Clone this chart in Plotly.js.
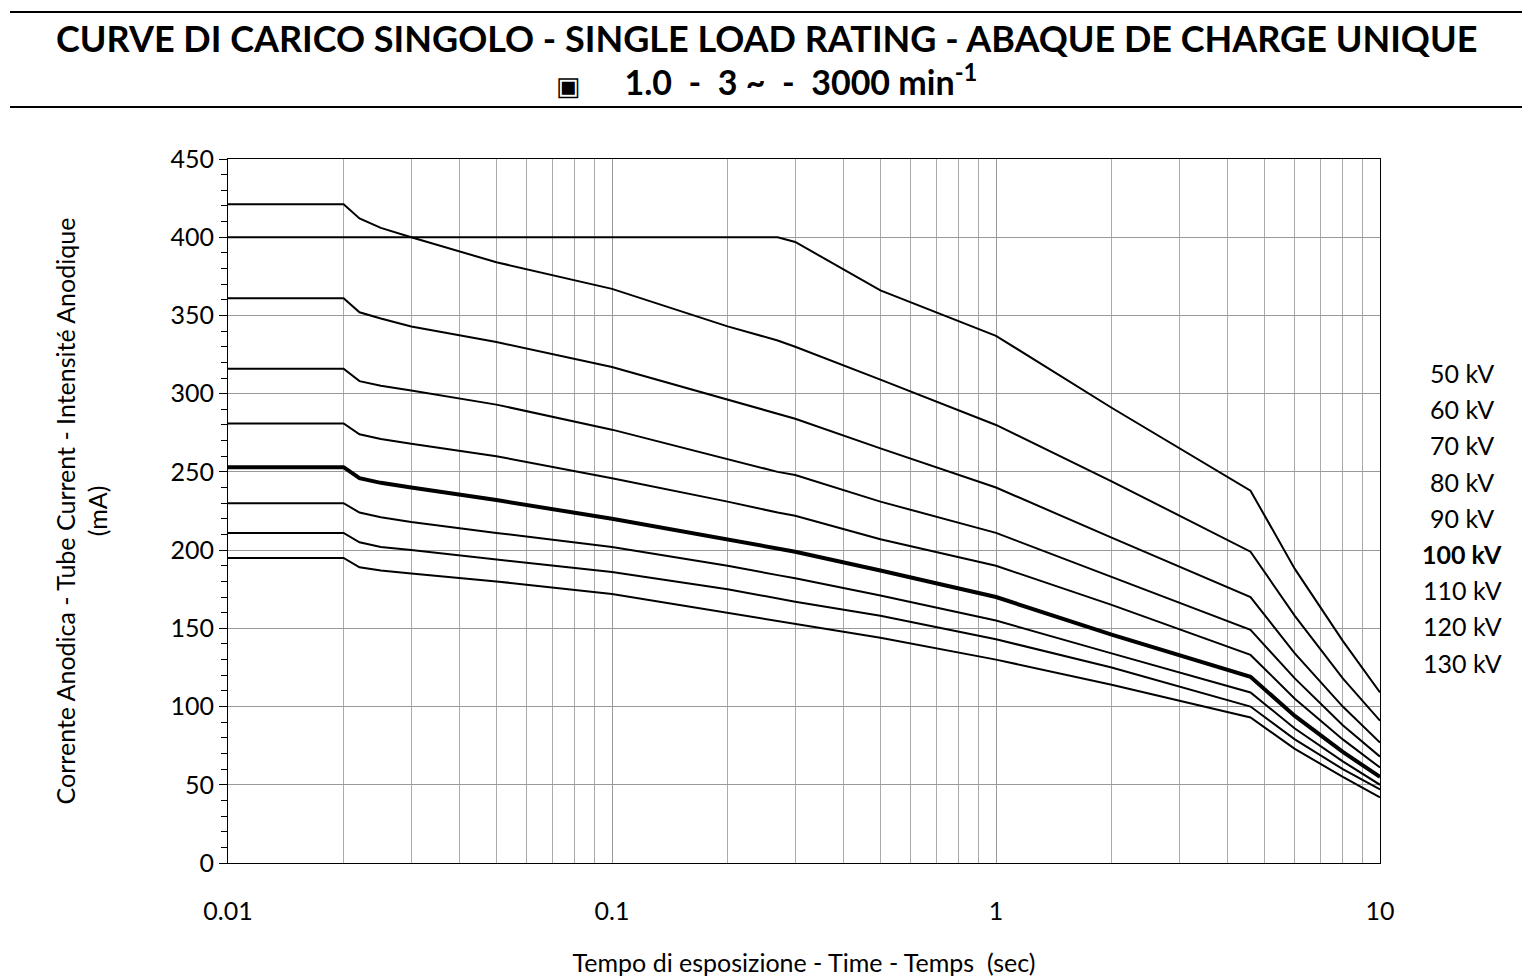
<!DOCTYPE html>
<html><head><meta charset="utf-8">
<script src="https://cdn.plot.ly/plotly-3.0.1.min.js"></script>
<style>body{margin:0;background:#fff}#c{width:1536px;height:979px}</style>
</head><body><div id="c"></div>
<script>
const times = [0.01,0.02,0.022,0.025,0.03,0.05,0.1,0.2,0.27,0.3,0.5,1,2,4.6,6,8,10];
const kv50  = [400,400,400,400,400,400,400,400,400,397,366,337,291,238,188,142,109];
const kv60  = [421,421,412,406,400,384,367,343,334,330,309,280,244,199,158,118,91];
const kv70  = [361,361,352,348,343,333,317,296,287,284,265,240,208,170,134,100,77];
const kv80  = [316,316,308,305,302,293,277,258,250,248,231,211,183,149,118,88,68];
const kv90  = [281,281,274,271,268,260,246,231,224,222,207,190,165,133,105,79,61];
const kv100 = [253,253,246,243,240,232,220,207,201,199,187,170,146,119,94,71,55];
const kv110 = [230,230,224,221,218,211,202,190,184,182,171,155,134,109,86,65,50];
const kv120 = [211,211,205,202,200,194,186,175,169,167,158,143,125,100,79,60,47];
const kv130 = [195,195,189,187,185,180,172,160,155,153,144,130,114,93,73,55,42];
const seriesNames = ['50 kV','60 kV','70 kV','80 kV','90 kV','100 kV','110 kV','120 kV','130 kV'];
const seriesVals = [kv50,kv60,kv70,kv80,kv90,kv100,kv110,kv120,kv130];
const xTicks = [0.01,0.1,1,10];
const xTickText = ['0.01','0.1','1','10'];
const minorX = [0.02,0.03,0.04,0.05,0.06,0.07,0.08,0.09,0.2,0.3,0.4,0.5,0.6,0.7,0.8,0.9,2,3,4,5,6,7,8,9];

const font = "Lato, 'Open Sans', sans-serif";
const traces = seriesVals.map((v,i)=>({
  x: times, y: v, type:'scatter', mode:'lines', name: seriesNames[i],
  line:{color:'#000', width: seriesNames[i]==='100 kV'?4:2}, hoverinfo:'skip'
}));
const annotations = seriesNames.map((n,i)=>({
  xref:'paper', yref:'paper', x:(1462-228)/1152, y:(863-(373+36.2*i))/704,
  text: n==='100 kV' ? '<b>'+n+'</b>' : n, showarrow:false,
  font:{family:font,size:25,color:'#000'}, xanchor:'center', yanchor:'middle'
}));
annotations.push({xref:'paper',yref:'paper',x:(766-228)/1152,y:(863-38)/704,
  text:'<b>CURVE DI CARICO SINGOLO - SINGLE LOAD RATING - ABAQUE DE CHARGE UNIQUE</b>',
  showarrow:false,font:{family:font,size:36,color:'#000'},xanchor:'center',yanchor:'middle'});
annotations.push({xref:'paper',yref:'paper',x:(766-228)/1152,y:(863-80)/704,
  text:'<span style="font-size:26px">▣</span>&nbsp;&nbsp;&nbsp;&nbsp;&nbsp;<b>1.0&nbsp;&nbsp;-&nbsp;&nbsp;3 ~&nbsp;&nbsp;-&nbsp;&nbsp;3000 min<sup>-1</sup></b>',
  showarrow:false,font:{family:font,size:34,color:'#000'},xanchor:'center',yanchor:'middle'});
const shapes = [12,107].map(py=>({type:'line',xref:'paper',yref:'paper',
  x0:(10-228)/1152,x1:(1522-228)/1152,y0:(863-py)/704,y1:(863-py)/704,line:{color:'#000',width:2}}));

Plotly.newPlot('c', traces, {
  width:1536, height:979, showlegend:false,
  margin:{l:228,r:156,t:159,b:116},
  paper_bgcolor:'#fff', plot_bgcolor:'#fff',
  font:{family:font,color:'#000'},
  xaxis:{type:'log', range:[-2,1], tickvals:xTicks, ticktext:xTickText,
    showgrid:true, gridcolor:'#999', gridwidth:1, linecolor:'#000', showline:true, mirror:true,
    ticks:'outside', ticklen:26, tickcolor:'rgba(0,0,0,0)', tickfont:{size:25},
    minor:{tickvals:minorX, showgrid:true, gridcolor:'#aaa', gridwidth:1, ticks:''},
    title:{text:'Tempo di esposizione - Time - Temps&nbsp;&nbsp;(sec)', font:{size:25}, standoff:30},
    zeroline:false},
  yaxis:{range:[0,450], dtick:50, showgrid:true, gridcolor:'#999', linecolor:'#000',
    showline:true, mirror:true, ticks:'outside', ticklen:8, tickcolor:'#000', tickfont:{size:25},
    minor:{dtick:10, ticks:'outside', ticklen:6, tickcolor:'#000', showgrid:false},
    title:{text:'Corrente Anodica - Tube Current - Intensité Anodique<br>(mA)', font:{size:25}, standoff:55},
    zeroline:false},
  annotations, shapes
}, {staticPlot:true});
</script></body></html>
